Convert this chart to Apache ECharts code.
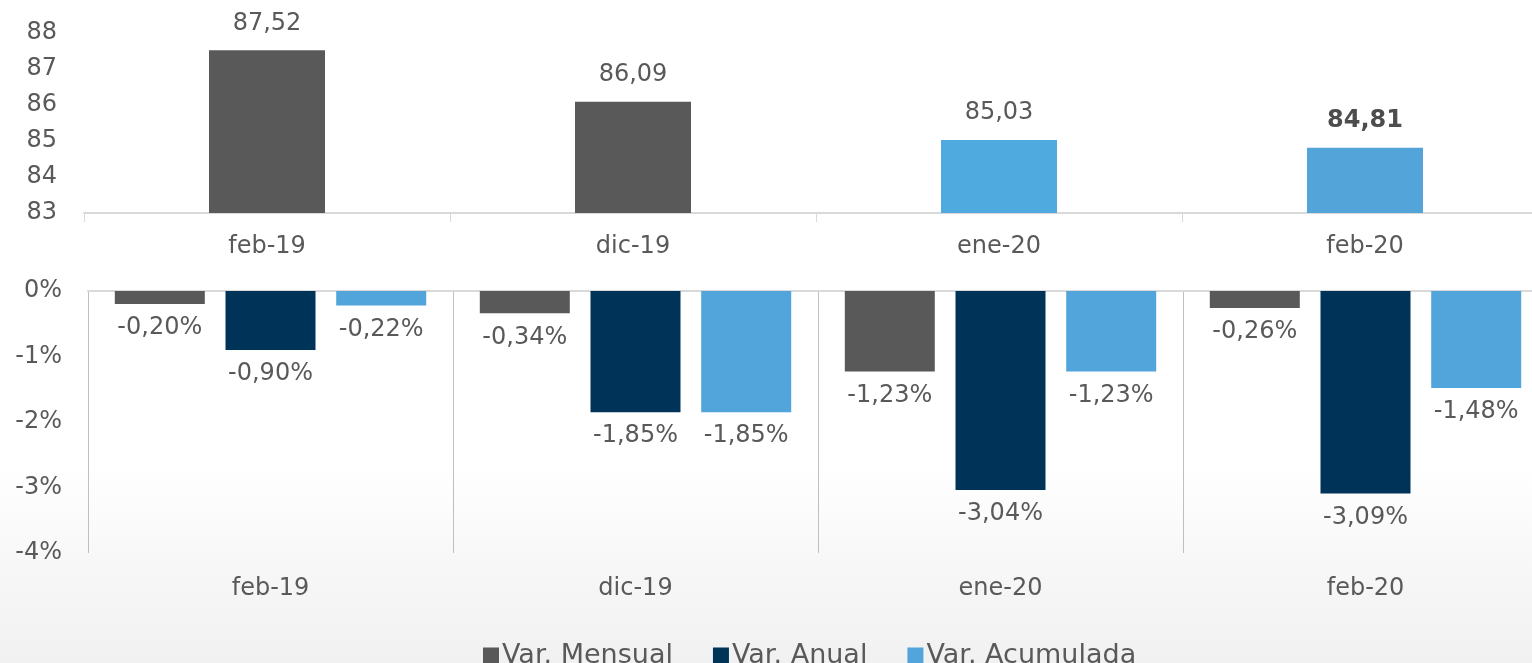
<!DOCTYPE html>
<html>
<head>
<meta charset="utf-8">
<script src="https://cdn.jsdelivr.net/npm/echarts@6/dist/echarts.min.js"></script>
<style>
  html, body { margin: 0; padding: 0; overflow: hidden; }
  body { width: 1532px; height: 663px; background: linear-gradient(to bottom, #ffffff 0%, #ffffff 70%, #f6f6f6 88%, #f1f1f1 100%); }
  #chart { width: 1560px; height: 663px; }
</style>
</head>
<body>
<div id="chart"></div>
<script>
// categorías
var categories = ["feb-19", "dic-19", "ene-20", "feb-20"];
// índice (gráfico superior)
var indexValues = [87.52, 86.09, 85.03, 84.81];
var indexColors = ["#595959", "#595959", "#4fabdf", "#52a4d9"];
// variaciones (gráfico inferior), en %
var varMensual = [-0.20, -0.34, -1.23, -0.26];
var varAnual = [-0.90, -1.85, -3.04, -3.09];
var varAcumulada = [-0.22, -1.85, -1.23, -1.48];
var seriesNames = ["Var. Mensual", "Var. Anual", "Var. Acumulada"];

var FONT = "'DejaVu Sans', sans-serif";
var TXT = "#595959";

function fmt(v) {
  return v.toFixed(2).replace(".", ",");
}

var chart = echarts.init(document.getElementById("chart"));

var topData = indexValues.map(function (v, i) {
  var item = { value: v, itemStyle: { color: indexColors[i] } };
  if (i === indexValues.length - 1) {
    item.label = { fontWeight: "bold", color: "#4d4d4d" };
  }
  return item;
});

var barLabel = {
  show: true,
  position: "bottom",
  distance: 12,
  fontSize: 24,
  fontFamily: FONT,
  color: TXT,
  formatter: function (p) { return fmt(p.value) + "%"; },
};

var option = {
  backgroundColor: "transparent",
  textStyle: { fontFamily: FONT },
  grid: [
    { left: 84, top: 33, width: 1464, height: 180 },
    { left: 88, top: 291, width: 1460, height: 262 },
  ],
  legend: {
    data: seriesNames,
    left: 478,
    top: 637,
    itemWidth: 16,
    itemHeight: 16,
    itemGap: 40,
    icon: "rect",
    textStyle: { fontSize: 27, color: TXT, fontFamily: FONT, padding: [0, 0, 0, -2] },
  },
  xAxis: [
    {
      type: "category",
      gridIndex: 0,
      data: categories,
      axisLine: { lineStyle: { color: "#d9d9d9", width: 2 } },
      axisTick: { show: true, length: 9, lineStyle: { color: "#d9d9d9" } },
      axisLabel: { fontSize: 24, color: TXT, margin: 22, fontFamily: FONT },
    },
    {
      type: "category",
      gridIndex: 1,
      position: "top",
      data: categories,
      axisLine: { onZero: false, lineStyle: { color: "#d9d9d9", width: 2 } },
      axisTick: { show: false },
      axisLabel: { show: false },
    },
    {
      type: "category",
      gridIndex: 1,
      position: "bottom",
      data: categories,
      axisLine: { show: false, onZero: false },
      axisTick: { show: false },
      axisLabel: { fontSize: 24, color: TXT, margin: 24, fontFamily: FONT },
      splitLine: { show: true, lineStyle: { color: "#bfbfbf", width: 1 } },
    },
  ],
  yAxis: [
    {
      type: "value",
      gridIndex: 0,
      min: 83,
      max: 88,
      interval: 1,
      axisLine: { show: false },
      axisTick: { show: false },
      splitLine: { show: false },
      axisLabel: { fontSize: 24, color: TXT, margin: 27, fontFamily: FONT },
    },
    {
      type: "value",
      gridIndex: 1,
      min: -4,
      max: 0,
      interval: 1,
      axisLine: { show: false },
      axisTick: { show: false },
      splitLine: { show: false },
      axisLabel: {
        fontSize: 24,
        color: TXT,
        margin: 26,
        fontFamily: FONT,
        formatter: function (v) { return v + "%"; },
      },
    },
  ],
  series: [
    {
      name: "Índice",
      type: "bar",
      xAxisIndex: 0,
      yAxisIndex: 0,
      barWidth: 116,
      data: topData,
      label: {
        show: true,
        position: "top",
        distance: 15,
        fontSize: 24,
        fontFamily: FONT,
        color: TXT,
        formatter: function (p) { return fmt(p.value); },
      },
    },
    {
      name: seriesNames[0],
      type: "bar",
      xAxisIndex: 2,
      yAxisIndex: 1,
      barWidth: 90,
      barGap: "23%",
      itemStyle: { color: "#595959" },
      label: barLabel,
      data: varMensual,
    },
    {
      name: seriesNames[1],
      type: "bar",
      xAxisIndex: 2,
      yAxisIndex: 1,
      barWidth: 90,
      barGap: "23%",
      itemStyle: { color: "#003358" },
      label: barLabel,
      data: varAnual,
    },
    {
      name: seriesNames[2],
      type: "bar",
      xAxisIndex: 2,
      yAxisIndex: 1,
      barWidth: 90,
      barGap: "23%",
      itemStyle: { color: "#52a5da" },
      label: barLabel,
      data: varAcumulada,
    },
  ],
};

chart.setOption(option);
</script>
</body>
</html>
